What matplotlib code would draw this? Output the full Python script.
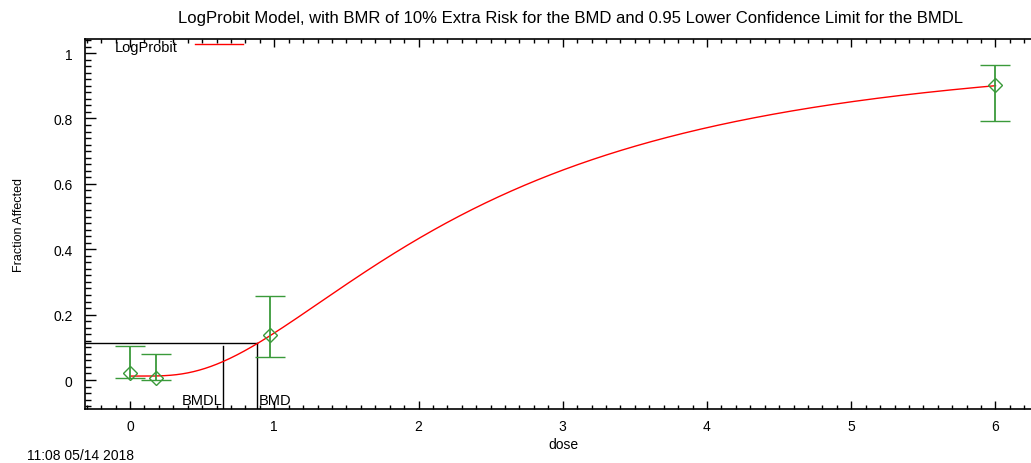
import math
import numpy as np
import matplotlib
matplotlib.use("Agg")
import matplotlib.pyplot as plt
from matplotlib.ticker import MultipleLocator

plt.rcParams['font.family'] = ['Liberation Sans', 'DejaVu Sans']

# Observed data
doses = [0.0, 0.18, 0.97, 6.0]
frac = [0.022, 0.006, 0.138, 0.902]
lower = [0.006, 0.0, 0.070, 0.792]
upper = [0.104, 0.080, 0.257, 0.963]

# LogProbit model parameters
background = 0.012
intercept = -1.111
slope = 1.332

bmd = 0.88
bmdl = 0.645
bmr_level = 0.112
bmdl_top = 0.104

title = "LogProbit Model, with BMR of 10% Extra Risk for the BMD and 0.95 Lower Confidence Limit for the BMDL"
timestamp = "11:08 05/14 2018"
legend_label = "LogProbit"

W, H = 1031, 464
fig = plt.figure(figsize=(W / 100, H / 100), dpi=100)
ax = fig.add_axes([85 / W, 1 - 410 / H, (W - 85) / W + 0.01, 370 / H])

green = '#3a9a3a'


def model(d):
    d = np.asarray(d, dtype=float)
    out = np.full(d.shape, background)
    pos = d > 0
    z = intercept + slope * np.log(d[pos])
    phi = 0.5 * (1 + np.vectorize(math.erf)(z / math.sqrt(2)))
    out[pos] = background + (1 - background) * phi
    return out

xs = np.linspace(0, 6.0, 600)
ax.plot(xs, model(xs), color='red', lw=1.0, zorder=3)

yerr = [np.array(frac) - np.array(lower), np.array(upper) - np.array(frac)]
ax.errorbar(doses, frac, yerr=yerr, fmt='D', mfc='none', mec=green, ms=7,
            mew=1.0, ecolor=green, elinewidth=1.3, capsize=11, capthick=1.3,
            color=green, zorder=4)

# BMD / BMDL lines
ax.plot([-0.35, bmd], [bmr_level, bmr_level], color='black', lw=1.0, zorder=2)
ax.plot([bmd, bmd], [-0.1, bmr_level], color='black', lw=1.0, zorder=2)
ax.plot([bmdl, bmdl], [-0.1, bmdl_top], color='black', lw=1.0, zorder=2)
ax.text(bmdl - 0.005, -0.083, 'BMDL', ha='right', va='bottom', fontsize=10.5)
ax.text(bmd + 0.01, -0.083, 'BMD', ha='left', va='bottom', fontsize=10.5)

ax.set_xlim(-0.312, (W + 10 - 130) / 144.2)
ax.set_ylim(-0.0887, 1.043)

ax.xaxis.set_minor_locator(MultipleLocator(0.1))
ax.yaxis.set_minor_locator(MultipleLocator(0.02))
ax.set_xticks(range(0, 7))
ax.set_xticklabels([str(i) for i in range(0, 7)])
ax.set_yticks([0, 0.2, 0.4, 0.6, 0.8, 1.0])
ax.set_yticklabels(['0', '0.2', '0.4', '0.6', '0.8', '1'])

ax.tick_params(which='both', direction='in', top=True, right=False, labelsize=10)
ax.tick_params(axis='x', which='major', length=6, width=1, pad=7)
ax.tick_params(axis='x', which='minor', length=3, width=1)
ax.tick_params(axis='y', which='major', length=8, width=1, pad=9)
ax.tick_params(axis='y', which='minor', length=4, width=1)
ax.spines['right'].set_visible(False)
for s in ['left', 'bottom', 'top']:
    ax.spines[s].set_linewidth(1.2)

ax.set_xlabel('dose', fontsize=10, labelpad=3)
ax.set_ylabel('Fraction Affected', fontsize=9, labelpad=20)

fig.text(570 / W, 1 - 18 / H, title, ha='center', va='center', fontsize=12)
fig.text(27 / W, 1 - 456 / H, timestamp, ha='left', va='center', fontsize=10)

# legend: label and red sample line
fig.text(115 / W, 1 - 48 / H, legend_label, ha='left', va='center', fontsize=10.5)
fig.add_artist(plt.Line2D([195 / W, 243 / W], [1 - 45 / H, 1 - 45 / H], color='red', lw=1.0))

fig.savefig('out.png', dpi=100)
